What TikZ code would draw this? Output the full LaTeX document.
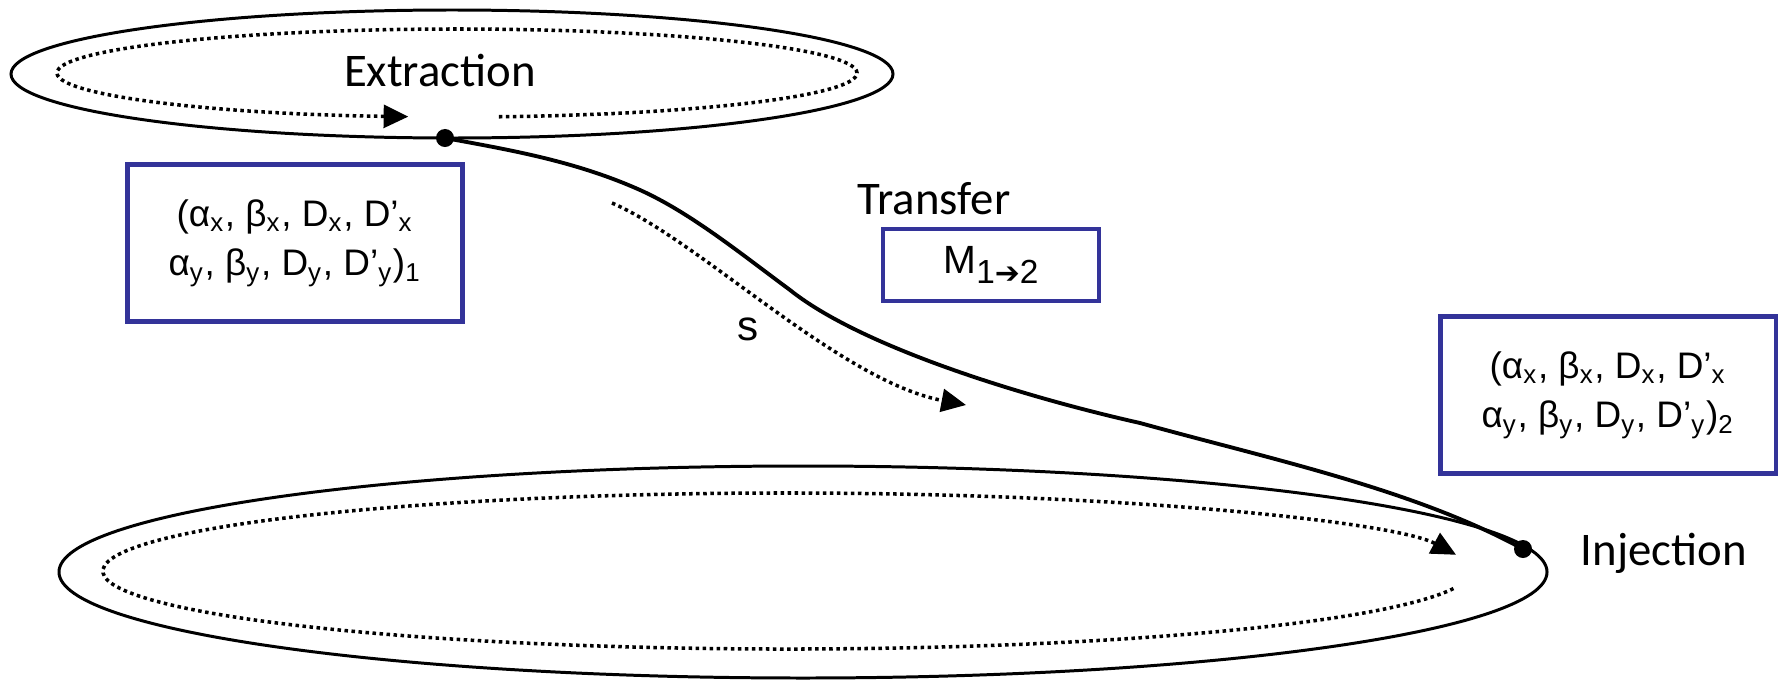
\documentclass[tikz,border=0pt]{standalone}
\usepackage{fontspec}
\setmainfont{Liberation Sans}
\newfontfamily\labelfont{Carlito}
\newfontfamily\arrowfont{DejaVu Sans Bold}
\usetikzlibrary{arrows.meta,positioning}
\definecolor{Frame}{HTML}{333399}

\begin{document}
\begin{tikzpicture}[x=0.01cm,y=0.01cm,
    ring/.style={line width=0.85pt},
    orbit/.style={line width=1pt,dash pattern=on 1pt off 1pt,
      -{Triangle[length=7pt,width=6.5pt]}},
    beam/.style={line width=1.1pt},
    pt/.style={circle,fill,inner sep=0pt,minimum size=0.18cm},
    optics/.style={draw=Frame,line width=1.2pt,minimum width=3.35cm,minimum height=1.57cm,
      align=center,font=\fontsize{10.5}{14}\selectfont},
    lbl/.style={font=\labelfont\fontsize{13.3}{16}\selectfont,inner sep=0pt}
  ]
  \useasboundingbox (0,0) rectangle (1779,681);
  % rings
  \draw[ring] (452,607) ellipse [x radius=441,y radius=64];
  \draw[ring] (803,109) ellipse [x radius=744,y radius=106];
  \draw[orbit] (457,608) ++(276:400 and 44) arc [start angle=276,end angle=623,x radius=400,y radius=44];
  \draw[orbit] (787,110) ++(-13:684 and 78) arc [start angle=-13,end angle=-348,x radius=684,y radius=78];
  \node[pt] (extr) at (445,543) {};
  \node[pt] (inj) at (1523,132) {};
  \node[lbl,anchor=base] (extrlbl) at (440,594) {Extraction};
  \node[lbl,anchor=base west] (injlbl) at (1580,116) {Injection};
  % transfer line
  \draw[beam] (extr.center) .. controls (510,531) and (575,520) .. (640,491)
    .. controls (690,468.5) and (740,428) .. (790,391)
    .. controls (860,335) and (1020,285) .. (1140,258)
    .. controls (1270,222) and (1413,192) .. (inj.center);
  \coordinate (s0) at (612,478);
  \coordinate (s1) at (966,276);
  \draw[orbit] (s0) .. controls (700,440) and (840,300) .. (s1);
  \node[font=\fontsize{12}{14}\selectfont] (slbl) at (748,352) {s};
  % optics boxes
  \node[optics] (opt1) at (295,438) {(α\textsubscript{x}, β\textsubscript{x}, D\textsubscript{x}, D’\textsubscript{x}\\
    α\textsubscript{y}, β\textsubscript{y}, D\textsubscript{y}, D’\textsubscript{y})\textsubscript{1}};
  \node[optics] (opt2) at (1608,286) {(α\textsubscript{x}, β\textsubscript{x}, D\textsubscript{x}, D’\textsubscript{x}\\
    α\textsubscript{y}, β\textsubscript{y}, D\textsubscript{y}, D’\textsubscript{y})\textsubscript{2}};
  \node[optics,minimum width=2.16cm,minimum height=0.72cm,font=\fontsize{11.2}{13}\selectfont] (tmat) at (991,416)
    {M\raisebox{-3pt}{\fontsize{9.5}{10}\selectfont 1{\arrowfont\fontsize{8.5}{10}\selectfont ➔}2}};
  \node[lbl,anchor=base] (translbl) at (934,467) {Transfer};
\end{tikzpicture}
\end{document}
